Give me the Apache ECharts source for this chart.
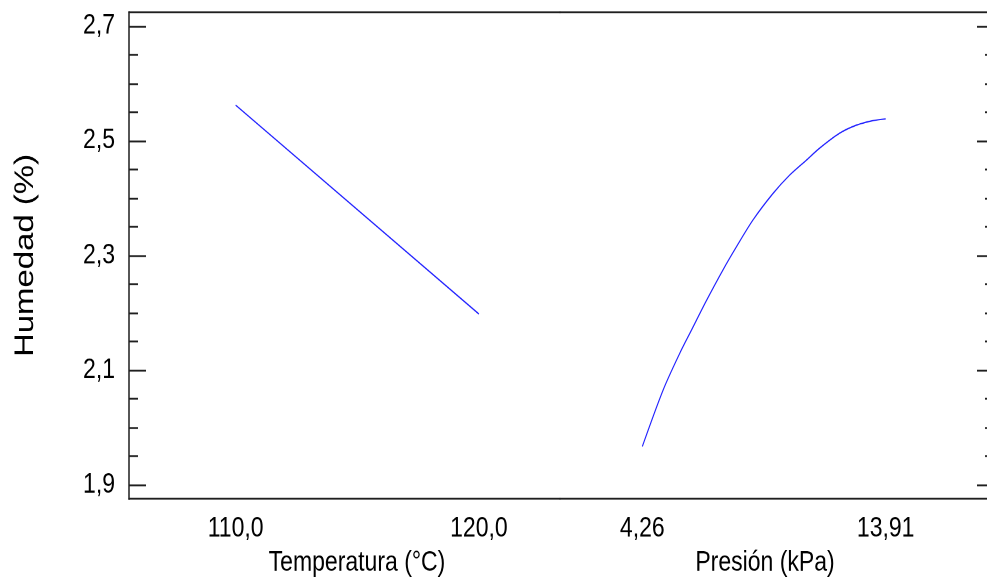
<!DOCTYPE html>
<html>
<head>
<meta charset="utf-8">
<script src="https://cdn.jsdelivr.net/npm/echarts@6/dist/echarts.min.js"></script>
<style>
html,body{margin:0;padding:0;background:#fff;overflow:hidden;}
#wrap{width:987px;height:578px;overflow:hidden;}
#chart{width:987px;height:474px;transform:scaleY(1.2194);transform-origin:0 0;}
</style>
</head>
<body>
<div id="wrap"><div id="chart"></div></div>
<script>
// Factor 1: Temperatura (°C)
const tempX = [110, 120];
const humTemp = [2.562, 2.198];
// Factor 2: Presión (kPa)
const presX = [4.26, 5.09, 5.75, 6.21, 6.81, 7.46, 7.99, 8.65, 9.44, 10.10, 10.76, 11.29, 12.08, 12.74, 13.40, 13.91];
const humPres = [1.967, 2.066, 2.130, 2.170, 2.222, 2.275, 2.315, 2.362, 2.408, 2.440, 2.466, 2.487, 2.513, 2.527, 2.535, 2.538];
// Tick labels
const tempTicks = [110, 120];
const tempTickLabels = ['110,0', '120,0'];
const presTicks = [4.26, 13.91];
const presTickLabels = ['4,26', '13,91'];
const yMajor = [1.9, 2.1, 2.3, 2.5, 2.7];
const yMajorLabels = ['1,9', '2,1', '2,3', '2,5', '2,7'];
const yMinor = [1.95, 2.0, 2.05, 2.15, 2.2, 2.25, 2.35, 2.4, 2.45, 2.55, 2.6, 2.65];

const Y_MIN = 1.8756, Y_MAX = 2.7244;
const lineCol = '#1f1f1f';
const font = '"Liberation Sans", Arial, sans-serif';

function lbl(ticks, labels) {
  return function (v) {
    for (let i = 0; i < ticks.length; i++) if (Math.abs(ticks[i] - v) < 1e-6) return labels[i];
    return '';
  };
}

const chart = echarts.init(document.getElementById('chart'), null, {renderer: 'canvas', devicePixelRatio: 2});
const axisLine = {show: true, lineStyle: {color: lineCol, width: 1.5}};
const noLine = {show: false};
const tickText = {fontFamily: font, fontSize: 23, color: '#000'};

chart.setOption({
  animation: false,
  backgroundColor: '#ffffff',
  grid: [
    {left: 129, top: 9.8, width: 431, height: 399.4, outerBoundsMode: 'none', containLabel: false},
    {left: 560, top: 9.8, width: 434, height: 399.4, outerBoundsMode: 'none', containLabel: false}
  ],
  xAxis: [
    {type: 'value', gridIndex: 0, position: 'bottom', min: 105.617, max: 123.333,
     axisLine: axisLine, axisTick: {show: false}, splitLine: {show: false},
     axisLabel: Object.assign({customValues: tempTicks, formatter: lbl(tempTicks, tempTickLabels), margin: 13}, tickText),
     name: 'Temperatura (°C)', nameLocation: 'middle', nameGap: 41,
     nameTextStyle: Object.assign({padding: [0, 0, 0, 25]}, tickText)},
    {type: 'value', gridIndex: 0, position: 'top', min: 105.617, max: 123.333,
     axisLine: axisLine, axisTick: {show: false}, axisLabel: {show: false}, splitLine: {show: false}},
    {type: 'value', gridIndex: 1, position: 'bottom', min: 0.997, max: 18.204,
     axisLine: axisLine, axisTick: {show: false}, splitLine: {show: false},
     axisLabel: Object.assign({customValues: presTicks, formatter: lbl(presTicks, presTickLabels), margin: 13}, tickText),
     name: 'Presión (kPa)', nameLocation: 'middle', nameGap: 41,
     nameTextStyle: Object.assign({padding: [0, 24, 0, 0]}, tickText)},
    {type: 'value', gridIndex: 1, position: 'top', min: 0.997, max: 18.204,
     axisLine: axisLine, axisTick: {show: false}, axisLabel: {show: false}, splitLine: {show: false}}
  ],
  yAxis: [
    {type: 'value', gridIndex: 0, position: 'left', min: Y_MIN, max: Y_MAX,
     axisLine: axisLine, splitLine: {show: false},
     axisTick: {show: true, inside: true, length: 17, customValues: yMajor, lineStyle: {color: lineCol, width: 1.5}},
     axisLabel: Object.assign({customValues: yMajor, formatter: lbl(yMajor, yMajorLabels), margin: 14}, tickText),
     name: 'Humedad (%)', nameLocation: 'middle', nameGap: 90,
     nameTextStyle: {fontFamily: font, fontSize: 27, color: '#000'}},
    {type: 'value', gridIndex: 0, position: 'left', min: Y_MIN, max: Y_MAX,
     axisLine: noLine, splitLine: {show: false}, axisLabel: {show: false},
     axisTick: {show: true, inside: true, length: 9, customValues: yMinor, lineStyle: {color: lineCol, width: 1.5}}},
    {type: 'value', gridIndex: 1, position: 'right', min: Y_MIN, max: Y_MAX,
     axisLine: axisLine, splitLine: {show: false}, axisLabel: {show: false},
     axisTick: {show: true, inside: true, length: 17, customValues: yMajor, lineStyle: {color: lineCol, width: 1.5}}},
    {type: 'value', gridIndex: 1, position: 'right', min: Y_MIN, max: Y_MAX,
     axisLine: noLine, splitLine: {show: false}, axisLabel: {show: false},
     axisTick: {show: true, inside: true, length: 9, customValues: yMinor, lineStyle: {color: lineCol, width: 1.5}}}
  ],
  series: [
    {type: 'line', xAxisIndex: 0, yAxisIndex: 0, showSymbol: false, symbol: 'none',
     data: tempX.map((x, i) => [x, humTemp[i]]), lineStyle: {color: '#2222ff', width: 1.1}},
    {type: 'line', xAxisIndex: 2, yAxisIndex: 2, showSymbol: false, symbol: 'none', smooth: 0.3,
     data: presX.map((x, i) => [x, humPres[i]]), lineStyle: {color: '#2222ff', width: 1.1}}
  ]
});
</script>
</body>
</html>
